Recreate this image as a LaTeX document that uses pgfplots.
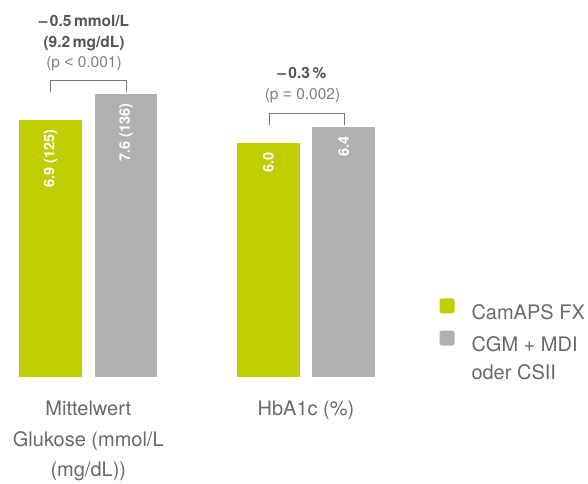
\documentclass[border=0pt]{standalone}
\usepackage{pgfplots}
\pgfplotsset{compat=1.18}
\usepackage{fontspec}
\setmainfont{TeX Gyre Heros}
\newfontfamily\libsans{Liberation Sans}
\definecolor{camgreen}{RGB}{190,206,0}
\definecolor{cgmgrey}{RGB}{176,176,176}
\definecolor{txtdark}{RGB}{85,85,85}
\definecolor{txtmid}{RGB}{105,105,105}
\definecolor{txtlight}{RGB}{128,128,128}
\definecolor{brk}{RGB}{120,120,120}
\tikzset{vallab/.style={rotate=90, anchor=east, text=white,
    font=\fontsize{14.5}{17}\selectfont\bfseries, inner xsep=9pt, inner ysep=0pt}}
\begin{document}
\begin{tikzpicture}
\useasboundingbox (0,0) rectangle (588pt,483pt);
\pgfplotsset{
  barbase/.style={
    at={(88.3pt,106pt)}, anchor=origin,
    x=217.7pt, xmin=-0.4, xmax=2.3, ymin=0, ymax=9,
    hide axis, clip=false,
    ybar, bar width=62.5pt,
  },
}
% Glucose group
\begin{axis}[barbase, y=37.2pt,
  legend style={draw=none, fill=none, at={(axis cs:1.6123,2.12)}, anchor=north west,
    font=\fontsize{20}{24}\selectfont, text=txtmid, row sep=7.5pt, column sep=0pt,
    inner sep=0pt},
  legend cell align=left]
\addplot[fill=camgreen, draw=none, bar shift=-37.8pt,
  legend image code/.code={\fill[camgreen, rounded corners=2.5pt] (0pt,-0.5pt) rectangle (15pt,14.5pt);}]
  coordinates {(0,6.9)};
\addlegendentry{\hspace*{15pt}CamAPS FX}
\addplot[fill=cgmgrey, draw=none, bar shift=37.8pt,
  legend image code/.code={\fill[cgmgrey, rounded corners=2.5pt] (0pt,-0.5pt) rectangle (15pt,14.5pt);}]
  coordinates {(0,7.6)};
\addlegendentry{\hspace*{15pt}CGM + MDI}
\addlegendimage{empty legend}
\addlegendentry{\hspace*{15pt}oder CSII}
\node[vallab] at ([xshift=-37.8pt]axis cs:0,6.9) {6.9 (125)};
\node[vallab] at ([xshift=37.8pt]axis cs:0,7.6) {7.6 (136)};
\end{axis}
% HbA1c group
\begin{axis}[barbase, y=39.0pt]
\addplot[fill=camgreen, draw=none, bar shift=-37.6pt] coordinates {(1,6.0)};
\addplot[fill=cgmgrey, draw=none, bar shift=37.6pt] coordinates {(1,6.4)};
\node[vallab] at ([xshift=-37.6pt]axis cs:1,6.0) {6.0};
\node[vallab] at ([xshift=37.6pt]axis cs:1,6.4) {6.4};
\end{axis}
% annotations in pixel coordinates (y downward)
\begin{scope}[yshift=483pt, x=1pt, y=-1pt]
\draw[brk, line width=1pt] (50.5,91.7) -- (50.5,80.7) -- (126.2,80.7) -- (126.2,91.7);
\draw[brk, line width=1pt] (269.5,125) -- (269.5,113.3) -- (344.5,113.3) -- (344.5,125);
\begin{scope}[every node/.style={inner sep=0pt, anchor=base}]
\node[text=txtdark, font=\fontsize{15.5}{18}\selectfont\bfseries] at (84,26.5) {–\,0.5\,mmol/L};
\node[text=txtdark, font=\fontsize{15.5}{18}\selectfont\bfseries] at (84,47.5) {(9.2\,mg/dL)};
\node[text=txtlight, font=\fontsize{15.5}{18}\selectfont] at (84,67.5) {(p {\libsans<} 0.001)};
\node[text=txtdark, font=\fontsize{15.5}{18}\selectfont\bfseries] at (301.8,79) {–\,0.3\,\%};
\node[text=txtlight, font=\fontsize{15.5}{18}\selectfont] at (302.5,99) {(p {\libsans=} 0.002)};
\node[text=txtmid, font=\fontsize{20}{24}\selectfont] at (88.3,415) {Mittelwert};
\node[text=txtmid, font=\fontsize{20}{24}\selectfont] at (88.3,446) {Glukose (mmol/L};
\node[text=txtmid, font=\fontsize{20}{24}\selectfont] at (88.3,476.5) {(mg/dL))};
\node[text=txtmid, font=\fontsize{20}{24}\selectfont] at (306,415) {HbA1c (\%)};
\end{scope}
\end{scope}
\end{tikzpicture}
\end{document}
